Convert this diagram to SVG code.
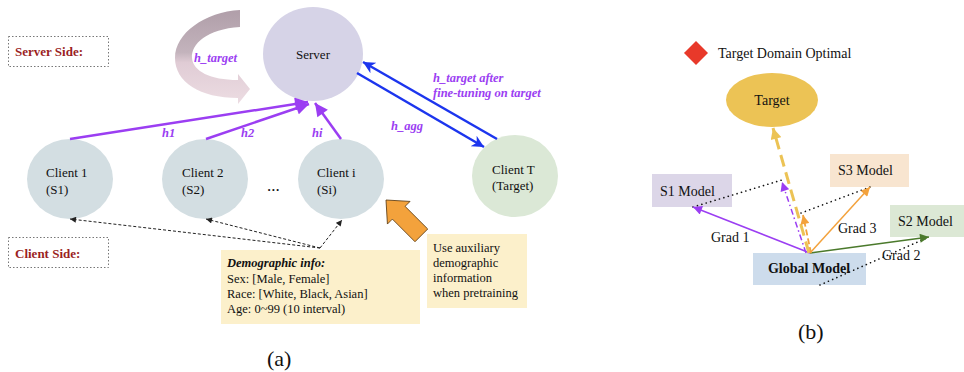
<svg xmlns="http://www.w3.org/2000/svg" width="964" height="372" viewBox="0 0 964 372">
  <style>
    text { font-family: "Liberation Serif", "Times New Roman", serif; fill: #111; }
    .lbl { font-size: 13px; }
    .lblb { font-size: 14px; }
    .side { font-size: 13px; font-weight: bold; fill: #9b1f1f; }
    .edge { font-size: 12.5px; font-weight: bold; font-style: italic; fill: #9b3ef2; }
    .note { font-size: 12.5px; }
    .cap { font-size: 22px; }
    .sidebox { fill: none; stroke: #777; stroke-width: 1; stroke-dasharray: 1.5 2; }
    .client { fill: #d3dee2; }
    .up { stroke: #9b3ef2; stroke-width: 2.5; fill: none; }
    .blue { stroke: #1c35ee; stroke-width: 2.5; fill: none; }
    .hint { stroke: #222; stroke-width: 1; stroke-dasharray: 3 2; fill: none; }
    .dots { stroke: #111; stroke-width: 1.6; stroke-dasharray: 0.1 4.5; stroke-linecap: round; fill: none; }
  </style>
  <defs>
    <marker id="ahPurple" viewBox="0 0 10 10" refX="10" refY="5" markerWidth="15" markerHeight="13" markerUnits="userSpaceOnUse" orient="auto">
      <path d="M0,0 L10,5 L0,10 z" fill="#9b3ef2"/>
    </marker>
    <marker id="ahBlue" viewBox="0 0 10 10" refX="10" refY="5" markerWidth="15" markerHeight="12" markerUnits="userSpaceOnUse" orient="auto">
      <path d="M0,0 L10,5 L0,10 L3,5 z" fill="#1c35ee"/>
    </marker>
    <marker id="ahBlack" viewBox="0 0 10 10" refX="10" refY="5" markerWidth="7" markerHeight="6" markerUnits="userSpaceOnUse" orient="auto">
      <path d="M0,0 L10,5 L0,10 z" fill="#222"/>
    </marker>
    <marker id="ahP2" viewBox="0 0 10 10" refX="10" refY="5" markerWidth="11" markerHeight="9" markerUnits="userSpaceOnUse" orient="auto">
      <path d="M0,0 L10,5 L0,10 z" fill="#9b3ef2"/>
    </marker>
    <marker id="ahG2" viewBox="0 0 10 10" refX="10" refY="5" markerWidth="11" markerHeight="9" markerUnits="userSpaceOnUse" orient="auto">
      <path d="M0,0 L10,5 L0,10 z" fill="#4b7a2c"/>
    </marker>
    <marker id="ahO2" viewBox="0 0 10 10" refX="10" refY="5" markerWidth="11" markerHeight="9" markerUnits="userSpaceOnUse" orient="auto">
      <path d="M0,0 L10,5 L0,10 z" fill="#f3a23c"/>
    </marker>
    <marker id="ahY" viewBox="0 0 10 10" refX="10" refY="5" markerWidth="13" markerHeight="11" markerUnits="userSpaceOnUse" orient="auto">
      <path d="M0,0 L10,5 L0,10 z" fill="#ecc355"/>
    </marker>
    <linearGradient id="loopGrad" x1="0" y1="0" x2="0" y2="1">
      <stop offset="0" stop-color="#b09ea9"/>
      <stop offset="0.45" stop-color="#c3b3bc"/>
      <stop offset="0.56" stop-color="#e0ccd5"/>
      <stop offset="1" stop-color="#ecdce2"/>
    </linearGradient>
  </defs>

  <!-- ===== Panel (a): federated setup ===== -->
  <g id="server-side-label">
    <rect class="sidebox" x="8.5" y="36.5" width="100" height="30"/>
    <text class="side" x="15" y="56">Server Side:</text>
  </g>
  <g id="client-side-label">
    <rect class="sidebox" x="8.5" y="237.5" width="100" height="30"/>
    <text class="side" x="15" y="258">Client Side:</text>
  </g>

  <!-- self-update loop on the server -->
  <g id="server-loop">
    <path d="M240,10 L240,27 C207,29 191,44 192,58 C193,71 210,80 238,80 L238,74 L250,89 L238,104 L238,98 C200,98 175,82 175,58 C175,33 205,12 240,10 Z" fill="url(#loopGrad)"/>
    <text class="edge" x="194" y="62">h_target</text>
  </g>

  <g id="server">
    <ellipse cx="313" cy="54" rx="50" ry="47" fill="#d6d3e7"/>
    <text class="lbl" x="313" y="59" text-anchor="middle">Server</text>
  </g>
  <g id="client-1">
    <ellipse class="client" cx="70" cy="179" rx="43" ry="40"/>
    <text class="lbl" x="46" y="177">Client 1</text>
    <text class="lbl" x="46" y="194">(S1)</text>
  </g>
  <g id="client-2">
    <ellipse class="client" cx="205" cy="179" rx="43" ry="40"/>
    <text class="lbl" x="182" y="177">Client 2</text>
    <text class="lbl" x="182" y="194">(S2)</text>
  </g>
  <text x="267" y="191" font-size="17">...</text>
  <g id="client-i">
    <ellipse class="client" cx="341" cy="179" rx="43" ry="40"/>
    <text class="lbl" x="317" y="177">Client i</text>
    <text class="lbl" x="317" y="194">(Si)</text>
  </g>
  <g id="client-t">
    <ellipse cx="515" cy="176" rx="43" ry="41" fill="#dbe8d6"/>
    <text class="lbl" x="492" y="174">Client T</text>
    <text class="lbl" x="492" y="190">(Target)</text>
  </g>

  <g id="demographic-info">
    <rect x="221" y="250" width="199" height="74" fill="#fcf0cb"/>
    <text class="note" x="227" y="267" font-weight="bold" font-style="italic">Demographic info:</text>
    <text class="note" x="227" y="283">Sex: [Male, Female]</text>
    <text class="note" x="227" y="298">Race: [White, Black, Asian]</text>
    <text class="note" x="227" y="313">Age: 0~99 (10 interval)</text>
  </g>
  <g id="auxiliary-note">
    <rect x="427" y="234" width="100" height="74" fill="#fcf0cb"/>
    <text class="note" x="433" y="252">Use auxiliary</text>
    <text class="note" x="433" y="267">demographic</text>
    <text class="note" x="433" y="282">information</text>
    <text class="note" x="433" y="297">when pretraining</text>
  </g>
  <g id="pretrain-pointer">
    <path d="M0,0 L18,-16 L18,-9 L50,-9 L50,9 L18,9 L18,16 Z" transform="translate(386,200) rotate(45)" fill="#f3a23c" stroke="#5a3a10" stroke-width="0.8"/>
  </g>

  <g id="connectors-a">
    <line class="up" x1="70" y1="139" x2="308" y2="102" marker-end="url(#ahPurple)"/>
    <line class="up" x1="206" y1="139" x2="309" y2="104" marker-end="url(#ahPurple)"/>
    <line class="up" x1="341" y1="139" x2="315" y2="103" marker-end="url(#ahPurple)"/>
    <text class="edge" x="162" y="137">h1</text>
    <text class="edge" x="241" y="137">h2</text>
    <text class="edge" x="312" y="137">hi</text>

    <line class="blue" x1="497" y1="139" x2="363" y2="62" marker-end="url(#ahBlue)"/>
    <line class="blue" x1="357" y1="73" x2="484" y2="147" marker-end="url(#ahBlue)"/>
    <text class="edge" x="433" y="82">h_target after</text>
    <text class="edge" x="433" y="97">fine-tuning on target</text>
    <text class="edge" x="391" y="130">h_agg</text>

    <line class="hint" x1="320" y1="248" x2="70" y2="219" marker-end="url(#ahBlack)"/>
    <line class="hint" x1="320" y1="248" x2="206" y2="219" marker-end="url(#ahBlack)"/>
    <line class="hint" x1="320" y1="248" x2="342" y2="220" marker-end="url(#ahBlack)"/>
  </g>

  <text class="cap" x="267" y="366">(a)</text>

  <!-- ===== Panel (b): gradient directions ===== -->
  <g id="legend">
    <rect x="687.5" y="44.5" width="17" height="17" fill="#e8392a" transform="rotate(45 696 53)"/>
    <text class="lblb" x="718" y="58">Target Domain Optimal</text>
  </g>
  <g id="target">
    <ellipse cx="772" cy="100" rx="46" ry="27" fill="#ecc355"/>
    <text class="lblb" x="772" y="105" text-anchor="middle">Target</text>
  </g>
  <g id="s1-model">
    <rect x="652" y="174" width="80" height="33" fill="#dcd6e8"/>
    <text class="lblb" x="660" y="196">S1 Model</text>
  </g>
  <g id="s3-model">
    <rect x="830" y="154" width="79" height="33" fill="#f8e5d0"/>
    <text class="lblb" x="838" y="175">S3 Model</text>
  </g>
  <g id="s2-model">
    <rect x="890" y="205" width="74" height="32" fill="#dce8d5"/>
    <text class="lblb" x="898" y="226">S2 Model</text>
  </g>
  <g id="global-model">
    <rect x="753" y="253" width="113" height="32" fill="#cddcec"/>
    <text class="lblb" x="809" y="273" text-anchor="middle" font-weight="bold">Global Model</text>
  </g>

  <g id="connectors-b">
    <line class="dots" x1="693" y1="207" x2="782" y2="180"/>
    <line class="dots" x1="801" y1="213" x2="870" y2="187"/>
    <line class="dots" x1="820" y1="285" x2="929" y2="237"/>

    <line x1="810" y1="253" x2="693" y2="207" stroke="#9b3ef2" stroke-width="1.5" marker-end="url(#ahP2)"/>
    <line x1="810" y1="253" x2="929" y2="237" stroke="#4b7a2c" stroke-width="1.5" marker-end="url(#ahG2)"/>
    <line x1="810" y1="253" x2="870" y2="187" stroke="#f3a23c" stroke-width="1.5" marker-end="url(#ahO2)"/>

    <line x1="809" y1="253" x2="773" y2="128" stroke="#ecc355" stroke-width="3" stroke-dasharray="12 6" marker-end="url(#ahY)"/>
    <line x1="806" y1="253" x2="782" y2="182" stroke="#9b3ef2" stroke-width="1.5" stroke-dasharray="6 3 1.5 3" marker-end="url(#ahP2)"/>
    <line x1="811" y1="253" x2="803" y2="215" stroke="#f3a23c" stroke-width="1.8" stroke-dasharray="6 3" marker-end="url(#ahO2)"/>

    <text class="lblb" x="711" y="242">Grad 1</text>
    <text class="lblb" x="838" y="233">Grad 3</text>
    <text class="lblb" x="882" y="260">Grad 2</text>
  </g>

  <text class="cap" x="798" y="339">(b)</text>
</svg>
